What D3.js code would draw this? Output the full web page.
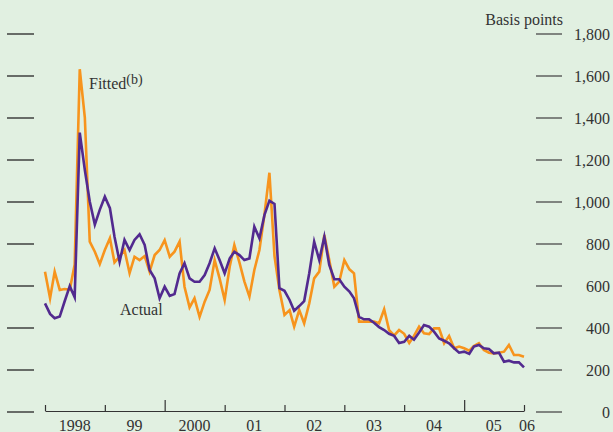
<!DOCTYPE html>
<html><head><meta charset="utf-8">
<script src="https://cdn.jsdelivr.net/npm/d3@7"></script>
<style>html,body{margin:0;padding:0;background:#e1f0e1;overflow:hidden;} svg{display:block;}</style>
</head><body>
<svg id="c" width="613" height="432"></svg>
<script>
// Monthly spreads, Jan 1998 .. Jan 2006 (basis points)
const fitted = [
  666, 539, 666, 579, 583, 580, 700, 1630, 1400, 809, 761, 702, 769, 825, 710, 737, 769,
  659, 737, 721, 740, 666, 745, 769, 816, 737, 761, 809, 594, 496, 539, 451, 523, 579, 721,
  634, 531, 690, 793, 710, 620, 547, 674, 769, 940, 1137, 740, 579, 460, 483, 404, 483, 420,
  515, 634, 666, 841, 721, 594, 618, 721, 677, 658, 428, 428, 428, 428,
  420, 487, 388, 362, 388, 370, 326, 360, 404, 372, 369, 396, 396, 325, 360, 301, 309, 301,
  290, 312, 325, 293, 280, 277, 280, 285, 317, 269, 269, 261
];
const actual = [
  515, 465, 444, 452, 525, 597, 544, 1328, 1150, 1000, 890, 960, 1023, 968, 832, 713, 817,
  769, 817, 844, 793, 674, 634, 539, 594, 551, 559, 658, 706, 634, 618, 618, 650, 706, 777,
  721, 658, 729, 761, 745, 721, 729, 880, 825, 936, 1004, 988, 587, 575, 531, 480, 502, 526,
  658, 809, 721, 832, 698, 630, 630, 594, 571, 539, 451, 439, 439, 423,
  402, 388, 370, 360, 326, 332, 360, 342, 376, 412, 404, 380, 348, 337, 325, 301, 280, 285,
  274, 309, 317, 301, 298, 277, 280, 237, 242, 234, 234, 210
];
const yTicks = [0, 200, 400, 600, 800, 1000, 1200, 1400, 1600, 1800];
const yearLabels = ["1998", "99", "2000", "01", "02", "03", "04", "05"];
const endLabel = "06";
const tallYears = [2000, 2005];
const unitLabel = "Basis points";
const fittedLabel = "Fitted";
const fittedNote = "(b)";
const actualLabel = "Actual";

const svg = d3.select("#c");
const FONT = "'Liberation Serif', 'Times New Roman', serif";
const TXT = "#333";

const months = d3.range(fitted.length).map(i => new Date(1998, i, 1));
const x = d3.scaleTime().domain([new Date(1998, 0, 1), new Date(2006, 0, 1)]).range([45, 524]);
const y = d3.scaleLinear().domain([0, 1800]).range([411.5, 33.5]);

// right axis
const ra = svg.append("g").attr("transform", "translate(536,0)")
  .call(d3.axisRight(y).tickValues(yTicks).tickSize(26).tickFormat(d3.format(",")));
ra.select(".domain").remove();
ra.selectAll(".tick line").attr("stroke", "#555").attr("stroke-width", 1.4);
ra.selectAll(".tick text").attr("x", 74).attr("text-anchor", "end")
  .attr("font-family", FONT).attr("font-size", 16).attr("fill", TXT).attr("dy", "0.36em");

// left axis (ticks only)
const la = svg.append("g").attr("transform", "translate(7,0)")
  .call(d3.axisRight(y).tickValues(yTicks).tickSize(27).tickFormat(""));
la.select(".domain").remove();
la.selectAll(".tick line").attr("stroke", "#333").attr("stroke-width", 1.4);

// x axis
const years = d3.timeYear.range(new Date(1998, 0, 1), new Date(2006, 0, 2));
const xa = svg.append("g").attr("transform", "translate(0,411)")
  .call(d3.axisTop(x).tickValues(years).tickSize(6).tickSizeOuter(0).tickFormat(""));
xa.select(".domain").attr("stroke", "#333").attr("stroke-width", 1.2);
xa.selectAll(".tick line").attr("stroke", "#333").attr("stroke-width", 1.2)
  .attr("y2", d => tallYears.includes(d.getFullYear()) ? -11 : -6);

svg.append("g").selectAll("text").data(yearLabels).join("text")
  .attr("x", (d, i) => x(new Date(1998 + i, 6, 1)))
  .attr("y", 431)
  .attr("text-anchor", "middle")
  .attr("font-family", FONT).attr("font-size", 16).attr("fill", TXT)
  .text(d => d);
svg.append("text")
  .attr("x", x(new Date(2006, 0, 1)) + 3).attr("y", 431)
  .attr("text-anchor", "middle")
  .attr("font-family", FONT).attr("font-size", 16).attr("fill", TXT)
  .text(endLabel);

// unit label
svg.append("text").attr("x", 563).attr("y", 25).attr("text-anchor", "end")
  .attr("font-family", FONT).attr("font-size", 16).attr("fill", TXT).text(unitLabel);

// lines
const line = d3.line().x((d, i) => x(months[i])).y(d => y(d));
svg.append("path").datum(fitted).attr("d", line)
  .attr("fill", "none").attr("stroke", "#f7941d").attr("stroke-width", 2.6)
  .attr("stroke-linejoin", "miter").attr("stroke-miterlimit", 6);
svg.append("path").datum(actual).attr("d", line)
  .attr("fill", "none").attr("stroke", "#522a8f").attr("stroke-width", 2.6)
  .attr("stroke-linejoin", "miter").attr("stroke-miterlimit", 6);

// series labels
const ft = svg.append("text").attr("x", 89).attr("y", 89)
  .attr("font-family", FONT).attr("font-size", 16).attr("fill", TXT);
ft.append("tspan").text(fittedLabel);
ft.append("tspan").attr("font-size", 14).attr("dy", -5).text(fittedNote);

svg.append("text").attr("x", 120).attr("y", 315)
  .attr("font-family", FONT).attr("font-size", 16).attr("fill", TXT).text(actualLabel);
</script>
</body></html>
